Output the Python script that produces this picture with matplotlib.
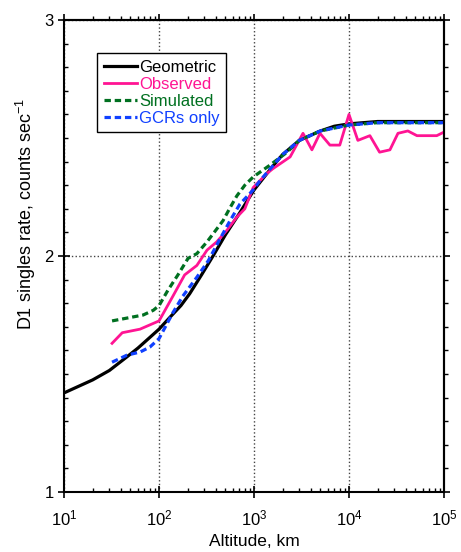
import numpy as np
import matplotlib
matplotlib.use("Agg")
import matplotlib.pyplot as plt
from matplotlib.ticker import LogLocator, MultipleLocator, NullFormatter, FixedLocator

plt.rcParams['font.family'] = ['Liberation Sans', 'DejaVu Sans']
plt.rcParams['mathtext.fontset'] = 'custom'
plt.rcParams['mathtext.rm'] = 'Liberation Sans'
plt.rcParams['mathtext.it'] = 'Liberation Sans:italic'
plt.rcParams['mathtext.bf'] = 'Liberation Sans:bold'

# altitude (km) / rate values
geo_alt = [10, 20, 30, 45, 60, 80, 100, 130, 170, 210, 280, 370, 500, 700,
           1000, 1500, 2000, 3000, 5000, 7000, 10000, 20000, 50000, 100000]
geo_rate = [1.42, 1.475, 1.515, 1.57, 1.61, 1.655, 1.69, 1.74, 1.79, 1.84, 1.92, 2.00,
            2.09, 2.18, 2.28, 2.37, 2.43, 2.49, 2.53, 2.55, 2.56, 2.57, 2.57, 2.57]

obs_alt = [32, 41, 63, 100, 140, 186, 250, 320, 405, 520, 660, 800, 980, 1370,
           1580, 2400, 3280, 4070, 4950, 6300, 8000, 10000, 12400, 16600, 21000,
           27000, 32800, 41700, 52000, 66000, 84000, 100000]
obs_rate = [1.63, 1.675, 1.69, 1.725, 1.83, 1.92, 1.96, 2.025, 2.06, 2.11, 2.165,
            2.20, 2.29, 2.35, 2.37, 2.42, 2.52, 2.45, 2.52, 2.47, 2.47, 2.60, 2.49,
            2.51, 2.44, 2.45, 2.52, 2.53, 2.51, 2.51, 2.51, 2.525]

sim_alt = [32, 46, 68, 87, 100, 124, 158, 202, 250, 320, 472, 560, 660, 800, 980,
           1470, 2230, 3000, 5000, 10000, 20000, 100000]
sim_rate = [1.725, 1.737, 1.75, 1.77, 1.79, 1.855, 1.92, 1.99, 2.01, 2.06, 2.15,
            2.205, 2.255, 2.30, 2.335, 2.385, 2.44, 2.49, 2.53, 2.555, 2.565, 2.565]

gcr_alt = [32, 46, 63, 80, 100, 140, 178, 250, 330, 435, 560, 710, 980, 1160,
           2000, 3000, 5000, 10000, 20000, 100000]
gcr_rate = [1.55, 1.58, 1.593, 1.614, 1.65, 1.76, 1.83, 1.91, 1.98, 2.07, 2.15,
            2.22, 2.28, 2.32, 2.43, 2.49, 2.53, 2.555, 2.565, 2.565]

fig = plt.figure(figsize=(4.61, 5.52), dpi=100)
ax = fig.add_axes([0.139, 0.1087, 0.824, 0.855])

ax.plot(geo_alt, geo_rate, color='black', lw=2.3, label='Geometric')
ax.plot(obs_alt, obs_rate, color='#ff1493', lw=2.0, label='Observed')
ax.plot(sim_alt, sim_rate, color='#007020', lw=2.3, ls=(0, (2, 1.2)), label='Simulated')
ax.plot(gcr_alt, gcr_rate, color='#1040ff', lw=2.3, ls=(0, (2, 1.2)), label='GCRs only')

ax.set_xscale('log')
ax.set_xlim(10, 1e5)
ax.set_ylim(1, 3)
ax.yaxis.set_major_locator(FixedLocator([1, 2, 3]))
ax.yaxis.set_minor_locator(MultipleLocator(0.1))
ax.xaxis.set_minor_locator(LogLocator(base=10, subs=np.arange(2, 10)))
ax.xaxis.set_minor_formatter(NullFormatter())
ax.set_yticklabels(['1', '2', '3'])

ax.grid(True, which='major', ls=':', color='#444444', lw=1.0)

ax.tick_params(which='major', direction='inout', length=8, width=1.2, labelsize=12,
               top=False, right=False)
ax.tick_params(which='minor', direction='in', length=3, width=1.0, top=False, right=False)
ax.tick_params(axis='x', pad=8)
for s in ax.spines.values():
    s.set_linewidth(1.5)

# mirrored ticks on top and right pointing outward
top = ax.secondary_xaxis('top')
top.set_xscale('log')
top.xaxis.set_minor_locator(LogLocator(base=10, subs=np.arange(2, 10)))
top.tick_params(which='major', direction='out', length=4, width=1.2, labeltop=False)
top.tick_params(which='minor', direction='out', length=3, width=1.0)
top.xaxis.set_major_formatter(NullFormatter())
top.xaxis.set_minor_formatter(NullFormatter())
right = ax.secondary_yaxis('right')
right.yaxis.set_major_locator(FixedLocator([1, 2, 3]))
right.yaxis.set_minor_locator(MultipleLocator(0.1))
right.tick_params(which='major', direction='out', length=4, width=1.2, labelright=False)
right.tick_params(which='minor', direction='out', length=3, width=1.0)
right.yaxis.set_major_formatter(NullFormatter())
for sa in (top, right):
    for s in sa.spines.values():
        s.set_linewidth(1.5)

ax.set_xlabel('Altitude, km', fontsize=12.5, labelpad=4)
ax.set_ylabel('D1 singles rate, counts sec$^{-1}$', fontsize=13)
ax.yaxis.set_label_coords(-0.068, 0.59)

leg = ax.legend(loc='upper left', bbox_to_anchor=(0.087, 0.93), borderaxespad=0,
                fontsize=12, handlelength=2.0, handletextpad=0.1, labelspacing=0.12,
                borderpad=0.4, fancybox=False, framealpha=1, edgecolor='black')
leg.get_frame().set_linewidth(1.0)
for txt, ln in zip(leg.get_texts(), leg.get_lines()):
    txt.set_color(ln.get_color())

fig.savefig('out.png', dpi=100)
